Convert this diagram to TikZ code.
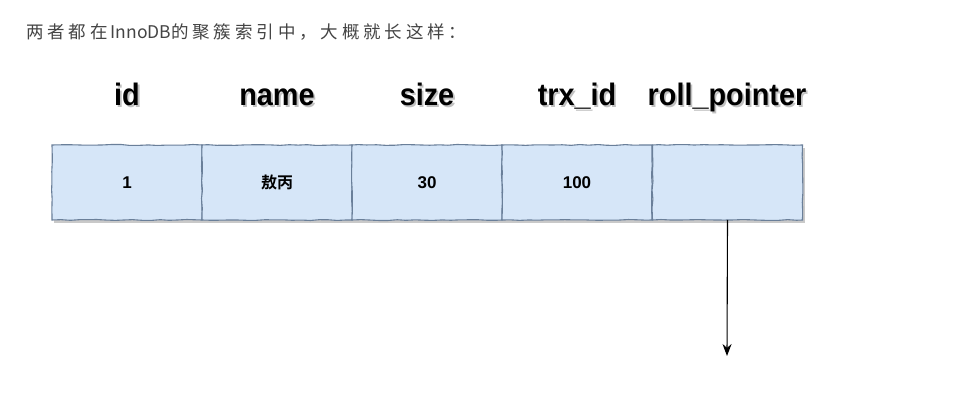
\documentclass[tikz,border=0pt]{standalone}
\usepackage{fontspec}
\setmainfont{Liberation Sans}
\newfontfamily\cjk{Noto Sans CJK SC}
\newfontfamily\cjkbold{Noto Sans CJK SC Bold}
\newfontfamily\hdr{Liberation Sans Bold}
\newfontfamily\cjksp[LetterSpace=22]{Noto Sans CJK SC}
\usetikzlibrary{decorations.pathmorphing,arrows.meta}
\definecolor{cellfill}{HTML}{D6E6F8}
\definecolor{celldraw}{HTML}{6A7F99}
\definecolor{introgray}{HTML}{444444}
\begin{document}
\begin{tikzpicture}[x=1pt,y=1pt,
  cell/.style={draw=celldraw,line width=1.1pt,fill=cellfill,minimum width=150pt,minimum height=75pt,inner sep=0pt,outer sep=0pt,
    decorate,decoration={random steps,segment length=9pt,amplitude=0.5pt}},
  celltext/.style={font=\bfseries\fontsize{17}{18}\selectfont},
  colhead/.style={font=\hdr\fontsize{31}{34}\selectfont,xscale=0.93,inner sep=0pt,anchor=base},
  colshadow/.style={colhead,text=black!40,opacity=0.6}]
\useasboundingbox (0,0) rectangle (961,410);
\fill[white] (0,0) rectangle (961,410);
% intro line
\node[anchor=west,text=introgray,inner sep=0pt,font=\fontsize{17.5}{19}\selectfont] (intro) at (26,378) {\cjksp 两者都在\cjk\,InnoDB\cjksp 的聚簇索引中，大概就长这样：};
% shadow of row
\fill[black!35,opacity=0.6] (54,187) rectangle (805,262);
% cells
\node[cell] (c1) at (127,227.5) {};
\node[cell] (c2) at (277,227.5) {};
\node[cell] (c3) at (427,227.5) {};
\node[cell] (c4) at (577,227.5) {};
\node[cell] (c5) at (727.5,227.5) {};
\node[celltext] at (c1) {1};
\node[font=\cjkbold\fontsize{16}{17}\selectfont] at (c2) {敖丙};
\node[celltext] at (c3) {30};
\node[celltext] at (c4) {100};
% column headers
\foreach \n/\t/\x in {hid/id/127,hname/name/277,hsize/size/427,htrx/trx\_id/577,hroll/roll\_pointer/727}{
  \node[colshadow] at (\x+1.8,302.2) {\t};
  \node[colhead] (\n) at (\x,304) {\t};
}
% arrow
\coordinate (aend) at (727,54);
\draw[-{Stealth[length=12pt,width=9pt]},line width=1.1pt] (c5.south) -- (aend);
\end{tikzpicture}
\end{document}
